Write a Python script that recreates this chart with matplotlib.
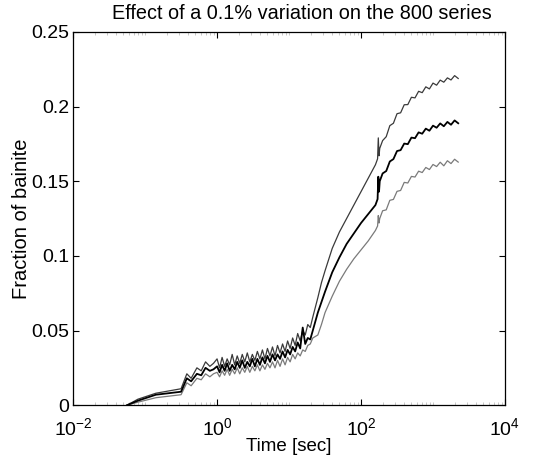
import numpy as np
import matplotlib
matplotlib.use("Agg")
import matplotlib.pyplot as plt
from matplotlib.ticker import LogLocator, FixedLocator, FixedFormatter, NullFormatter

plt.rcParams['font.family'] = ['Liberation Sans', 'DejaVu Sans']
plt.rcParams['mathtext.default'] = 'regular'

# log10 of time [sec], shared by the three series
log_time = [
    # onset
    -1.25, -1.10, -0.85, -0.50, -0.42, -0.36, -0.28, -0.22, -0.16, -0.10, -0.05,
    # slow, noisy stage
    0.000, 0.035, 0.070, 0.105, 0.140, 0.175, 0.210, 0.245, 0.280, 0.315,
    0.350, 0.385, 0.420, 0.455, 0.490, 0.525, 0.560, 0.595, 0.630, 0.665,
    0.700, 0.735, 0.770, 0.805, 0.840, 0.875, 0.910, 0.945, 0.980, 1.015,
    1.050, 1.085, 1.120, 1.155, 1.190, 1.225, 1.260, 1.295, 1.330,
    # fast growth
    1.40, 1.45, 1.50, 1.60, 1.70, 1.80, 1.90, 2.00, 2.10, 2.20,
    2.23, 2.24, 2.25, 2.26,
    # saturation
    2.30, 2.35, 2.40, 2.45, 2.50, 2.55, 2.60, 2.65, 2.70, 2.75, 2.80,
    2.85, 2.90, 2.95, 3.00, 3.05, 3.10, 3.15, 3.20, 3.25, 3.30, 3.35,
]

# +0.1% variation (upper curve)
frac_high = [
    0.000, 0.004, 0.008, 0.011, 0.021, 0.018, 0.025, 0.023, 0.029, 0.026, 0.028,
    0.031, 0.025, 0.032, 0.026, 0.031, 0.027, 0.034, 0.027, 0.033, 0.028,
    0.034, 0.029, 0.035, 0.029, 0.034, 0.030, 0.036, 0.031, 0.037, 0.031,
    0.038, 0.033, 0.039, 0.033, 0.040, 0.035, 0.041, 0.036, 0.043, 0.038,
    0.045, 0.040, 0.048, 0.043, 0.050, 0.047, 0.054, 0.052, 0.059,
    0.072, 0.082, 0.090, 0.105, 0.116, 0.125, 0.134, 0.143, 0.152, 0.161,
    0.165, 0.179, 0.167, 0.172,
    0.1772, 0.1798, 0.1872, 0.1888, 0.1952, 0.1958, 0.2012, 0.2013, 0.2062, 0.2058, 0.2102,
    0.2093, 0.2132, 0.2118, 0.2157, 0.2143, 0.2177, 0.2163, 0.2192, 0.2178, 0.2207, 0.2188,
]

# nominal composition (middle curve)
frac_nominal = [
    0.000, 0.003, 0.007, 0.009, 0.018, 0.016, 0.021, 0.020, 0.025, 0.023, 0.024,
    0.026, 0.022, 0.027, 0.023, 0.028, 0.023, 0.027, 0.024, 0.029, 0.025,
    0.030, 0.025, 0.029, 0.026, 0.031, 0.026, 0.031, 0.027, 0.032, 0.028,
    0.033, 0.029, 0.034, 0.030, 0.034, 0.031, 0.036, 0.032, 0.037, 0.034,
    0.039, 0.036, 0.042, 0.038, 0.052, 0.041, 0.045, 0.044, 0.050,
    0.062, 0.069, 0.076, 0.089, 0.099, 0.108, 0.115, 0.122, 0.128, 0.134,
    0.138, 0.153, 0.143, 0.150,
    0.1552, 0.1568, 0.1632, 0.1648, 0.1702, 0.1708, 0.1752, 0.1748, 0.1792, 0.1788, 0.1827,
    0.1818, 0.1852, 0.1838, 0.1872, 0.1858, 0.1887, 0.1868, 0.1897, 0.1878, 0.1907, 0.1888,
]

# -0.1% variation (lower curve)
frac_low = [
    0.000, 0.002, 0.005, 0.007, 0.015, 0.013, 0.018, 0.017, 0.021, 0.019, 0.021,
    0.022, 0.019, 0.023, 0.020, 0.024, 0.020, 0.024, 0.021, 0.025, 0.021,
    0.025, 0.022, 0.026, 0.022, 0.026, 0.023, 0.027, 0.023, 0.027, 0.024,
    0.028, 0.025, 0.029, 0.025, 0.030, 0.026, 0.031, 0.027, 0.032, 0.029,
    0.034, 0.031, 0.035, 0.033, 0.037, 0.036, 0.040, 0.041, 0.045,
    0.047, 0.054, 0.062, 0.073, 0.083, 0.091, 0.098, 0.104, 0.110, 0.117,
    0.120, 0.127, 0.122, 0.125,
    0.1302, 0.1308, 0.1372, 0.1378, 0.1432, 0.1438, 0.1492, 0.1488, 0.1532, 0.1528, 0.1567,
    0.1558, 0.1592, 0.1578, 0.1612, 0.1598, 0.1627, 0.1603, 0.1637, 0.1618, 0.1647, 0.1628,
]

x_tick_exponents = [-2, 0, 2, 4]
y_ticks = [0, 0.05, 0.1, 0.15, 0.2, 0.25]
y_tick_labels = ['0', '0.05', '0.1', '0.15', '0.2', '0.25']

assert len(log_time) == len(frac_high) == len(frac_nominal) == len(frac_low)
time = 10.0 ** np.array(log_time)

fig = plt.figure(figsize=(5.58, 4.62), dpi=100)
ax = fig.add_axes([0.131, 0.123, 0.774, 0.808])

ax.plot(time, frac_high, color='#3a3a3a', lw=0.9)
ax.plot(time, frac_low, color='#7a7a7a', lw=0.9)
ax.plot(time, frac_nominal, color='black', lw=1.3)

ax.set_xscale('log')
ax.set_xlim(1e-2, 1e4)
ax.set_ylim(0, 0.25)

ax.xaxis.set_major_locator(FixedLocator([10.0 ** e for e in x_tick_exponents]))
ax.xaxis.set_major_formatter(FixedFormatter([rf'$10^{{{e}}}$' for e in x_tick_exponents]))
ax.xaxis.set_minor_locator(LogLocator(base=10, subs=np.arange(1, 10), numticks=20))
ax.xaxis.set_minor_formatter(NullFormatter())
ax.set_yticks(y_ticks)
ax.set_yticklabels(y_tick_labels)

ax.tick_params(which='major', direction='in', length=4, width=0.8,
               top=True, right=True, labelsize=14, pad=3)
ax.tick_params(axis='x', which='major', pad=9)
ax.tick_params(which='minor', direction='in', length=2, width=0.5,
               top=True, right=True, color='#b0b0b0')
for spine in ax.spines.values():
    spine.set_linewidth(0.9)

ax.set_title('Effect of a 0.1% variation on the 800 series', fontsize=14.3,
             pad=9, x=0.53)
ax.set_xlabel('Time [sec]', fontsize=13.5, labelpad=-1)
ax.set_ylabel('Fraction of bainite', fontsize=14.5, labelpad=0)

fig.savefig('out.png', dpi=100)
